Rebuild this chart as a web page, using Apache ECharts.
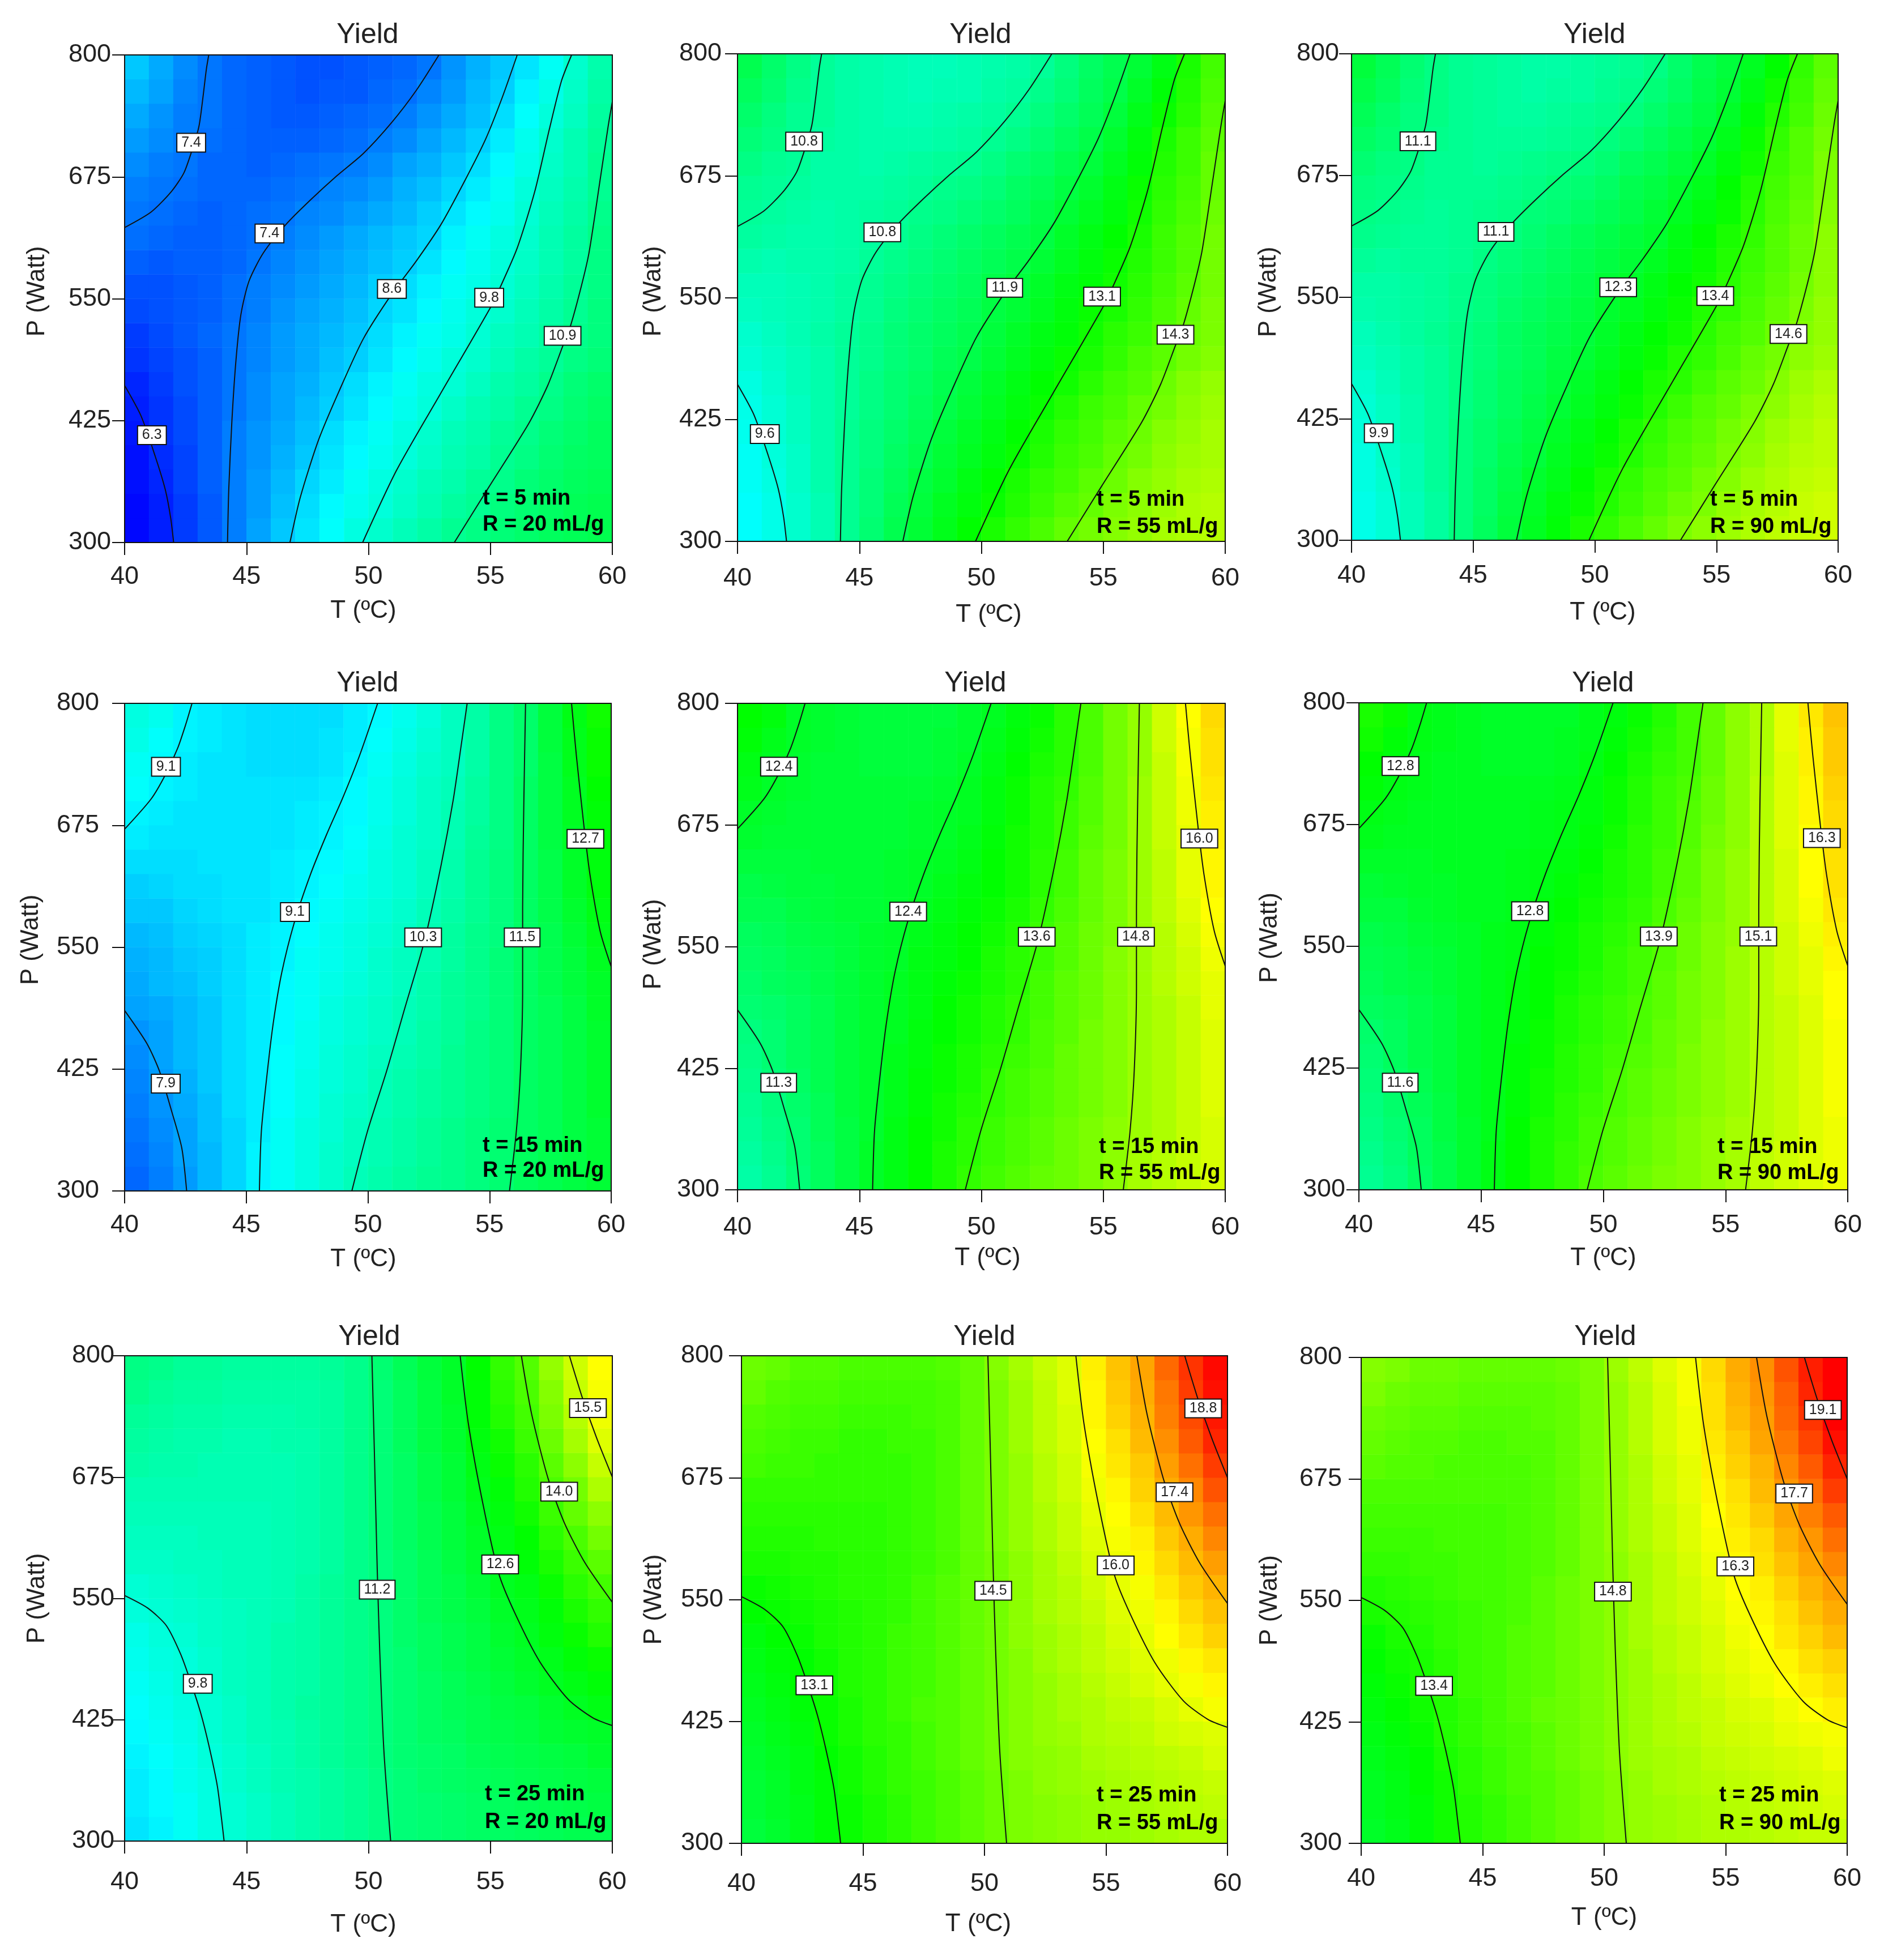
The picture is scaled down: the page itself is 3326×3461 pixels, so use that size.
<!DOCTYPE html>
<html><head><meta charset="utf-8">
<script src="https://cdn.jsdelivr.net/npm/echarts@6/dist/echarts.min.js"></script>
<style>html,body{margin:0;padding:0;background:#fff}#c{width:3326px;height:3461px}</style>
</head><body><div id="c"></div>
<script>
const tTicks=[40,45,50,55,60];
const tCells=[40.5,41.5,42.5,43.5,44.5,45.5,46.5,47.5,48.5,49.5,50.5,51.5,52.5,53.5,54.5,55.5,56.5,57.5,58.5,59.5];
const pCells=[312.5,337.5,362.5,387.5,412.5,437.5,462.5,487.5,512.5,537.5,562.5,587.5,612.5,637.5,662.5,687.5,712.5,737.5,762.5,787.5];

const z_t5_R20=[
[5.9,6.2,6.6,7.0,7.5,8.0,8.5,8.9,9.3,9.7,10.0,10.3,10.6,10.9,11.1,11.3,11.5,11.7,11.8,11.9],
[5.9,6.2,6.6,7.0,7.5,7.9,8.4,8.8,9.2,9.5,9.8,10.1,10.4,10.7,10.9,11.2,11.4,11.6,11.8,11.9],
[6.0,6.3,6.7,7.1,7.5,7.9,8.3,8.7,9.0,9.4,9.7,10.0,10.3,10.5,10.8,11.0,11.3,11.5,11.7,11.8],
[6.0,6.4,6.7,7.1,7.5,7.8,8.2,8.5,8.9,9.2,9.5,9.8,10.1,10.4,10.6,10.9,11.1,11.4,11.6,11.7],
[6.1,6.5,6.8,7.1,7.5,7.8,8.1,8.4,8.8,9.1,9.4,9.7,10.0,10.3,10.5,10.8,11.0,11.3,11.5,11.7],
[6.2,6.5,6.8,7.1,7.4,7.7,8.0,8.3,8.6,8.9,9.2,9.5,9.8,10.1,10.4,10.6,10.9,11.1,11.4,11.6],
[6.3,6.6,6.9,7.1,7.4,7.7,8.0,8.2,8.5,8.8,9.1,9.4,9.7,9.9,10.2,10.5,10.7,11.0,11.3,11.5],
[6.5,6.7,6.9,7.1,7.4,7.6,7.9,8.1,8.4,8.6,8.9,9.2,9.5,9.8,10.0,10.3,10.6,10.8,11.1,11.3],
[6.6,6.8,7.0,7.2,7.4,7.6,7.9,8.1,8.3,8.5,8.8,9.1,9.4,9.6,9.9,10.2,10.4,10.7,11.0,11.2],
[6.8,6.9,7.0,7.1,7.3,7.5,7.8,8.0,8.2,8.4,8.7,8.9,9.2,9.5,9.8,10.0,10.3,10.6,10.9,11.2],
[6.9,6.9,7.0,7.1,7.3,7.5,7.7,7.9,8.1,8.3,8.6,8.8,9.1,9.4,9.6,9.9,10.2,10.5,10.8,11.1],
[7.1,7.0,7.1,7.1,7.2,7.4,7.6,7.8,8.0,8.2,8.4,8.6,8.9,9.2,9.5,9.8,10.1,10.4,10.7,11.1],
[7.3,7.2,7.1,7.1,7.2,7.3,7.5,7.7,7.9,8.1,8.3,8.5,8.7,9.1,9.4,9.7,10.0,10.4,10.7,11.1],
[7.4,7.3,7.2,7.1,7.2,7.3,7.4,7.6,7.7,7.9,8.1,8.3,8.6,8.9,9.2,9.5,9.9,10.3,10.6,11.0],
[7.5,7.4,7.3,7.2,7.2,7.2,7.3,7.4,7.6,7.7,7.9,8.2,8.4,8.7,9.0,9.4,9.8,10.2,10.5,10.9],
[7.7,7.5,7.4,7.2,7.2,7.1,7.2,7.3,7.4,7.5,7.7,8.0,8.2,8.5,8.8,9.2,9.6,10.1,10.4,10.9],
[7.9,7.7,7.5,7.3,7.2,7.1,7.1,7.1,7.2,7.3,7.5,7.7,8.0,8.3,8.6,9.0,9.5,10.0,10.4,10.8],
[8.1,7.8,7.5,7.4,7.2,7.1,7.0,7.0,7.1,7.2,7.3,7.5,7.8,8.1,8.4,8.8,9.3,9.8,10.2,10.7],
[8.3,8.0,7.6,7.4,7.2,7.1,7.0,6.9,7.0,7.0,7.2,7.3,7.6,7.9,8.3,8.6,9.1,9.6,10.1,10.6],
[8.5,8.1,7.7,7.4,7.2,7.1,7.0,6.9,6.9,7.0,7.1,7.2,7.4,7.8,8.2,8.5,8.9,9.4,10.0,10.5]];
const z_t5_R55=[
[9.3,9.6,10.0,10.4,10.9,11.4,11.9,12.3,12.7,13.1,13.4,13.7,14.0,14.3,14.5,14.7,14.9,15.1,15.2,15.3],
[9.3,9.6,10.0,10.4,10.9,11.3,11.8,12.2,12.6,12.9,13.2,13.5,13.8,14.1,14.3,14.6,14.8,15.0,15.2,15.3],
[9.4,9.7,10.1,10.5,10.9,11.3,11.7,12.1,12.4,12.8,13.1,13.4,13.7,13.9,14.2,14.4,14.7,14.9,15.1,15.2],
[9.4,9.8,10.1,10.5,10.9,11.2,11.6,11.9,12.3,12.6,12.9,13.2,13.5,13.8,14.0,14.3,14.5,14.8,15.0,15.1],
[9.5,9.9,10.2,10.5,10.9,11.2,11.5,11.8,12.2,12.5,12.8,13.1,13.4,13.7,13.9,14.2,14.4,14.7,14.9,15.1],
[9.6,9.9,10.2,10.5,10.8,11.1,11.4,11.7,12.0,12.3,12.6,12.9,13.2,13.5,13.8,14.0,14.3,14.5,14.8,15.0],
[9.7,10.0,10.3,10.5,10.8,11.1,11.4,11.6,11.9,12.2,12.5,12.8,13.1,13.3,13.6,13.9,14.1,14.4,14.7,14.9],
[9.9,10.1,10.3,10.5,10.8,11.0,11.3,11.5,11.8,12.0,12.3,12.6,12.9,13.2,13.4,13.7,14.0,14.2,14.5,14.7],
[10.0,10.2,10.4,10.6,10.8,11.0,11.3,11.5,11.7,11.9,12.2,12.5,12.8,13.0,13.3,13.6,13.8,14.1,14.4,14.6],
[10.2,10.3,10.4,10.5,10.7,10.9,11.2,11.4,11.6,11.8,12.1,12.3,12.6,12.9,13.2,13.4,13.7,14.0,14.3,14.6],
[10.3,10.3,10.4,10.5,10.7,10.9,11.1,11.3,11.5,11.7,12.0,12.2,12.5,12.8,13.0,13.3,13.6,13.9,14.2,14.5],
[10.5,10.4,10.5,10.5,10.6,10.8,11.0,11.2,11.4,11.6,11.8,12.0,12.3,12.6,12.9,13.2,13.5,13.8,14.1,14.5],
[10.7,10.6,10.5,10.5,10.6,10.7,10.9,11.1,11.3,11.5,11.7,11.9,12.1,12.5,12.8,13.1,13.4,13.8,14.1,14.5],
[10.8,10.7,10.6,10.5,10.6,10.7,10.8,11.0,11.1,11.3,11.5,11.7,12.0,12.3,12.6,12.9,13.3,13.7,14.0,14.4],
[10.9,10.8,10.7,10.6,10.6,10.6,10.7,10.8,11.0,11.1,11.3,11.6,11.8,12.1,12.4,12.8,13.2,13.6,13.9,14.3],
[11.1,10.9,10.8,10.6,10.6,10.5,10.6,10.7,10.8,10.9,11.1,11.4,11.6,11.9,12.2,12.6,13.0,13.5,13.8,14.3],
[11.3,11.1,10.9,10.7,10.6,10.5,10.5,10.5,10.6,10.7,10.9,11.1,11.4,11.7,12.0,12.4,12.9,13.4,13.8,14.2],
[11.5,11.2,10.9,10.8,10.6,10.5,10.4,10.4,10.5,10.6,10.7,10.9,11.2,11.5,11.8,12.2,12.7,13.2,13.6,14.1],
[11.7,11.4,11.0,10.8,10.6,10.5,10.4,10.3,10.4,10.4,10.6,10.7,11.0,11.3,11.7,12.0,12.5,13.0,13.5,14.0],
[11.9,11.5,11.1,10.8,10.6,10.5,10.4,10.3,10.3,10.4,10.5,10.6,10.8,11.2,11.6,11.9,12.3,12.8,13.4,13.9]];
const z_t5_R90=[
[9.6,9.9,10.3,10.7,11.2,11.7,12.2,12.6,13.0,13.4,13.7,14.0,14.3,14.6,14.8,15.0,15.2,15.4,15.5,15.6],
[9.6,9.9,10.3,10.7,11.2,11.6,12.1,12.5,12.9,13.2,13.5,13.8,14.1,14.4,14.6,14.9,15.1,15.3,15.5,15.6],
[9.7,10.0,10.4,10.8,11.2,11.6,12.0,12.4,12.7,13.1,13.4,13.7,14.0,14.2,14.5,14.7,15.0,15.2,15.4,15.5],
[9.7,10.1,10.4,10.8,11.2,11.5,11.9,12.2,12.6,12.9,13.2,13.5,13.8,14.1,14.3,14.6,14.8,15.1,15.3,15.4],
[9.8,10.2,10.5,10.8,11.2,11.5,11.8,12.1,12.5,12.8,13.1,13.4,13.7,14.0,14.2,14.5,14.7,15.0,15.2,15.4],
[9.9,10.2,10.5,10.8,11.1,11.4,11.7,12.0,12.3,12.6,12.9,13.2,13.5,13.8,14.1,14.3,14.6,14.8,15.1,15.3],
[10.0,10.3,10.6,10.8,11.1,11.4,11.7,11.9,12.2,12.5,12.8,13.1,13.4,13.6,13.9,14.2,14.4,14.7,15.0,15.2],
[10.2,10.4,10.6,10.8,11.1,11.3,11.6,11.8,12.1,12.3,12.6,12.9,13.2,13.5,13.7,14.0,14.3,14.5,14.8,15.0],
[10.3,10.5,10.7,10.9,11.1,11.3,11.6,11.8,12.0,12.2,12.5,12.8,13.1,13.3,13.6,13.9,14.1,14.4,14.7,14.9],
[10.5,10.6,10.7,10.8,11.0,11.2,11.5,11.7,11.9,12.1,12.4,12.6,12.9,13.2,13.5,13.7,14.0,14.3,14.6,14.9],
[10.6,10.6,10.7,10.8,11.0,11.2,11.4,11.6,11.8,12.0,12.3,12.5,12.8,13.1,13.3,13.6,13.9,14.2,14.5,14.8],
[10.8,10.7,10.8,10.8,10.9,11.1,11.3,11.5,11.7,11.9,12.1,12.3,12.6,12.9,13.2,13.5,13.8,14.1,14.4,14.8],
[11.0,10.9,10.8,10.8,10.9,11.0,11.2,11.4,11.6,11.8,12.0,12.2,12.4,12.8,13.1,13.4,13.7,14.1,14.4,14.8],
[11.1,11.0,10.9,10.8,10.9,11.0,11.1,11.3,11.4,11.6,11.8,12.0,12.3,12.6,12.9,13.2,13.6,14.0,14.3,14.7],
[11.2,11.1,11.0,10.9,10.9,10.9,11.0,11.1,11.3,11.4,11.6,11.9,12.1,12.4,12.7,13.1,13.5,13.9,14.2,14.6],
[11.4,11.2,11.1,10.9,10.9,10.8,10.9,11.0,11.1,11.2,11.4,11.7,11.9,12.2,12.5,12.9,13.3,13.8,14.1,14.6],
[11.6,11.4,11.2,11.0,10.9,10.8,10.8,10.8,10.9,11.0,11.2,11.4,11.7,12.0,12.3,12.7,13.2,13.7,14.1,14.5],
[11.8,11.5,11.2,11.1,10.9,10.8,10.7,10.7,10.8,10.9,11.0,11.2,11.5,11.8,12.1,12.5,13.0,13.5,13.9,14.4],
[12.0,11.7,11.3,11.1,10.9,10.8,10.7,10.6,10.7,10.7,10.9,11.0,11.3,11.6,12.0,12.3,12.8,13.3,13.8,14.3],
[12.2,11.8,11.4,11.1,10.9,10.8,10.7,10.6,10.6,10.7,10.8,10.9,11.1,11.5,11.9,12.2,12.6,13.1,13.7,14.2]];

const z_t15_R20=[
[7.2,7.5,7.9,8.3,8.7,9.1,9.4,9.7,10.0,10.3,10.5,10.7,10.9,11.0,11.2,11.4,11.7,11.9,12.1,12.3],
[7.3,7.6,8.0,8.3,8.7,9.1,9.4,9.7,10.0,10.2,10.4,10.6,10.8,11.0,11.2,11.4,11.7,11.9,12.1,12.3],
[7.4,7.7,8.0,8.4,8.7,9.0,9.4,9.7,9.9,10.2,10.4,10.6,10.8,11.0,11.2,11.4,11.6,11.8,12.1,12.3],
[7.5,7.8,8.1,8.4,8.8,9.0,9.3,9.6,9.9,10.1,10.3,10.5,10.7,10.9,11.1,11.3,11.6,11.8,12.1,12.4],
[7.6,7.9,8.2,8.5,8.8,9.0,9.3,9.6,9.8,10.0,10.3,10.5,10.7,10.9,11.1,11.3,11.6,11.8,12.1,12.4],
[7.7,8.0,8.3,8.5,8.8,9.0,9.3,9.5,9.8,10.0,10.2,10.4,10.6,10.9,11.1,11.3,11.6,11.8,12.1,12.4],
[7.8,8.0,8.3,8.5,8.8,9.0,9.2,9.5,9.7,9.9,10.1,10.3,10.6,10.8,11.1,11.3,11.6,11.8,12.1,12.4],
[8.0,8.1,8.3,8.5,8.8,9.0,9.2,9.4,9.7,9.9,10.1,10.3,10.5,10.8,11.0,11.3,11.6,11.8,12.1,12.5],
[8.1,8.3,8.4,8.6,8.8,9.0,9.2,9.4,9.6,9.8,10.0,10.2,10.5,10.8,11.0,11.3,11.6,11.9,12.2,12.5],
[8.2,8.3,8.5,8.6,8.8,9.0,9.1,9.4,9.5,9.7,10.0,10.2,10.4,10.7,11.0,11.3,11.6,11.9,12.2,12.6],
[8.3,8.4,8.6,8.7,8.8,9.0,9.1,9.3,9.5,9.7,9.9,10.1,10.4,10.7,11.0,11.2,11.6,11.9,12.3,12.7],
[8.5,8.5,8.7,8.8,8.9,8.9,9.0,9.2,9.4,9.6,9.8,10.0,10.3,10.6,10.9,11.2,11.6,12.0,12.4,12.8],
[8.6,8.7,8.8,8.8,8.9,8.9,9.0,9.1,9.3,9.5,9.7,9.9,10.2,10.5,10.9,11.2,11.6,12.0,12.5,12.9],
[8.8,8.8,8.8,8.9,8.9,8.9,9.0,9.1,9.2,9.4,9.7,9.9,10.2,10.5,10.9,11.2,11.6,12.0,12.5,12.9],
[9.0,8.9,8.9,8.9,8.9,8.9,8.9,9.0,9.1,9.3,9.6,9.9,10.1,10.4,10.8,11.1,11.6,12.1,12.5,13.0],
[9.1,9.0,8.9,8.9,8.9,8.9,8.9,9.0,9.1,9.2,9.5,9.8,10.1,10.4,10.7,11.1,11.6,12.1,12.6,13.0],
[9.3,9.1,9.0,8.9,8.9,8.9,8.9,8.9,9.0,9.2,9.5,9.8,10.1,10.3,10.7,11.1,11.6,12.1,12.6,13.1],
[9.4,9.2,9.0,8.9,8.9,8.8,8.8,8.8,8.9,9.1,9.4,9.7,10.0,10.2,10.6,11.1,11.5,12.1,12.7,13.2],
[9.6,9.3,9.1,9.0,8.9,8.8,8.8,8.8,8.9,9.0,9.3,9.6,9.9,10.2,10.6,11.1,11.5,12.2,12.7,13.2],
[9.7,9.5,9.1,9.0,8.9,8.8,8.8,8.8,8.8,9.0,9.2,9.5,9.8,10.2,10.6,11.1,11.5,12.2,12.8,13.3]];
const z_t15_R55=[
[10.6,10.9,11.3,11.7,12.1,12.5,12.8,13.1,13.4,13.7,13.9,14.1,14.3,14.4,14.6,14.8,15.1,15.3,15.5,15.7],
[10.7,11.0,11.4,11.7,12.1,12.5,12.8,13.1,13.4,13.6,13.8,14.0,14.2,14.4,14.6,14.8,15.1,15.3,15.5,15.7],
[10.8,11.1,11.4,11.8,12.1,12.4,12.8,13.1,13.3,13.6,13.8,14.0,14.2,14.4,14.6,14.8,15.0,15.2,15.5,15.7],
[10.9,11.2,11.5,11.8,12.2,12.4,12.7,13.0,13.3,13.5,13.7,13.9,14.1,14.3,14.5,14.7,15.0,15.2,15.5,15.8],
[11.0,11.3,11.6,11.9,12.2,12.4,12.7,13.0,13.2,13.4,13.7,13.9,14.1,14.3,14.5,14.7,15.0,15.2,15.5,15.8],
[11.1,11.4,11.7,11.9,12.2,12.4,12.7,12.9,13.2,13.4,13.6,13.8,14.0,14.3,14.5,14.7,15.0,15.2,15.5,15.8],
[11.2,11.4,11.7,11.9,12.2,12.4,12.6,12.9,13.1,13.3,13.5,13.7,14.0,14.2,14.5,14.7,15.0,15.2,15.5,15.8],
[11.4,11.5,11.7,11.9,12.2,12.4,12.6,12.8,13.1,13.3,13.5,13.7,13.9,14.2,14.4,14.7,15.0,15.2,15.5,15.9],
[11.5,11.7,11.8,12.0,12.2,12.4,12.6,12.8,13.0,13.2,13.4,13.6,13.9,14.2,14.4,14.7,15.0,15.3,15.6,15.9],
[11.6,11.7,11.9,12.0,12.2,12.4,12.5,12.8,12.9,13.1,13.4,13.6,13.8,14.1,14.4,14.7,15.0,15.3,15.6,16.0],
[11.7,11.8,12.0,12.1,12.2,12.4,12.5,12.7,12.9,13.1,13.3,13.5,13.8,14.1,14.4,14.6,15.0,15.3,15.7,16.1],
[11.9,11.9,12.1,12.2,12.3,12.3,12.4,12.6,12.8,13.0,13.2,13.4,13.7,14.0,14.3,14.6,15.0,15.4,15.8,16.2],
[12.0,12.1,12.2,12.2,12.3,12.3,12.4,12.5,12.7,12.9,13.1,13.3,13.6,13.9,14.3,14.6,15.0,15.4,15.9,16.3],
[12.2,12.2,12.2,12.3,12.3,12.3,12.4,12.5,12.6,12.8,13.1,13.3,13.6,13.9,14.3,14.6,15.0,15.4,15.9,16.3],
[12.4,12.3,12.3,12.3,12.3,12.3,12.3,12.4,12.5,12.7,13.0,13.3,13.5,13.8,14.2,14.5,15.0,15.5,15.9,16.4],
[12.5,12.4,12.3,12.3,12.3,12.3,12.3,12.4,12.5,12.6,12.9,13.2,13.5,13.8,14.1,14.5,15.0,15.5,16.0,16.4],
[12.7,12.5,12.4,12.3,12.3,12.3,12.3,12.3,12.4,12.6,12.9,13.2,13.5,13.7,14.1,14.5,15.0,15.5,16.0,16.5],
[12.8,12.6,12.4,12.3,12.3,12.2,12.2,12.2,12.3,12.5,12.8,13.1,13.4,13.6,14.0,14.5,14.9,15.5,16.1,16.6],
[13.0,12.7,12.5,12.4,12.3,12.2,12.2,12.2,12.3,12.4,12.7,13.0,13.3,13.6,14.0,14.5,14.9,15.6,16.1,16.6],
[13.1,12.9,12.5,12.4,12.3,12.2,12.2,12.2,12.2,12.4,12.6,12.9,13.2,13.6,14.0,14.5,14.9,15.6,16.2,16.7]];
const z_t15_R90=[
[10.9,11.2,11.6,12.0,12.4,12.8,13.1,13.4,13.7,14.0,14.2,14.4,14.6,14.7,14.9,15.1,15.4,15.6,15.8,16.0],
[11.0,11.3,11.7,12.0,12.4,12.8,13.1,13.4,13.7,13.9,14.1,14.3,14.5,14.7,14.9,15.1,15.4,15.6,15.8,16.0],
[11.1,11.4,11.7,12.1,12.4,12.7,13.1,13.4,13.6,13.9,14.1,14.3,14.5,14.7,14.9,15.1,15.3,15.5,15.8,16.0],
[11.2,11.5,11.8,12.1,12.5,12.7,13.0,13.3,13.6,13.8,14.0,14.2,14.4,14.6,14.8,15.0,15.3,15.5,15.8,16.1],
[11.3,11.6,11.9,12.2,12.5,12.7,13.0,13.3,13.5,13.7,14.0,14.2,14.4,14.6,14.8,15.0,15.3,15.5,15.8,16.1],
[11.4,11.7,12.0,12.2,12.5,12.7,13.0,13.2,13.5,13.7,13.9,14.1,14.3,14.6,14.8,15.0,15.3,15.5,15.8,16.1],
[11.5,11.7,12.0,12.2,12.5,12.7,12.9,13.2,13.4,13.6,13.8,14.0,14.3,14.5,14.8,15.0,15.3,15.5,15.8,16.1],
[11.7,11.8,12.0,12.2,12.5,12.7,12.9,13.1,13.4,13.6,13.8,14.0,14.2,14.5,14.7,15.0,15.3,15.5,15.8,16.2],
[11.8,12.0,12.1,12.3,12.5,12.7,12.9,13.1,13.3,13.5,13.7,13.9,14.2,14.5,14.7,15.0,15.3,15.6,15.9,16.2],
[11.9,12.0,12.2,12.3,12.5,12.7,12.8,13.1,13.2,13.4,13.7,13.9,14.1,14.4,14.7,15.0,15.3,15.6,15.9,16.3],
[12.0,12.1,12.3,12.4,12.5,12.7,12.8,13.0,13.2,13.4,13.6,13.8,14.1,14.4,14.7,14.9,15.3,15.6,16.0,16.4],
[12.2,12.2,12.4,12.5,12.6,12.6,12.7,12.9,13.1,13.3,13.5,13.7,14.0,14.3,14.6,14.9,15.3,15.7,16.1,16.5],
[12.3,12.4,12.5,12.5,12.6,12.6,12.7,12.8,13.0,13.2,13.4,13.6,13.9,14.2,14.6,14.9,15.3,15.7,16.2,16.6],
[12.5,12.5,12.5,12.6,12.6,12.6,12.7,12.8,12.9,13.1,13.4,13.6,13.9,14.2,14.6,14.9,15.3,15.7,16.2,16.6],
[12.7,12.6,12.6,12.6,12.6,12.6,12.6,12.7,12.8,13.0,13.3,13.6,13.8,14.1,14.5,14.8,15.3,15.8,16.2,16.7],
[12.8,12.7,12.6,12.6,12.6,12.6,12.6,12.7,12.8,12.9,13.2,13.5,13.8,14.1,14.4,14.8,15.3,15.8,16.3,16.7],
[13.0,12.8,12.7,12.6,12.6,12.6,12.6,12.6,12.7,12.9,13.2,13.5,13.8,14.0,14.4,14.8,15.3,15.8,16.3,16.8],
[13.1,12.9,12.7,12.6,12.6,12.5,12.5,12.5,12.6,12.8,13.1,13.4,13.7,13.9,14.3,14.8,15.2,15.8,16.4,16.9],
[13.3,13.0,12.8,12.7,12.6,12.5,12.5,12.5,12.6,12.7,13.0,13.3,13.6,13.9,14.3,14.8,15.2,15.9,16.4,16.9],
[13.4,13.2,12.8,12.7,12.6,12.5,12.5,12.5,12.5,12.7,12.9,13.2,13.5,13.9,14.3,14.8,15.2,15.9,16.5,17.0]];

const z_t25_R20=[
[8.9,9.1,9.4,9.7,9.9,10.1,10.3,10.5,10.7,10.9,11.1,11.3,11.4,11.5,11.6,11.6,11.7,11.8,11.9,11.9],
[9.0,9.2,9.4,9.7,9.9,10.1,10.3,10.5,10.7,10.9,11.1,11.3,11.4,11.5,11.6,11.7,11.8,11.9,12.0,12.1],
[9.0,9.2,9.5,9.7,10.0,10.2,10.4,10.5,10.7,10.9,11.1,11.3,11.5,11.6,11.7,11.8,11.9,12.0,12.1,12.2],
[9.1,9.3,9.5,9.8,10.0,10.2,10.4,10.6,10.8,11.0,11.2,11.4,11.5,11.6,11.8,11.9,12.0,12.1,12.2,12.4],
[9.2,9.4,9.6,9.9,10.1,10.3,10.4,10.6,10.8,11.0,11.2,11.4,11.6,11.7,11.9,12.0,12.1,12.3,12.4,12.5],
[9.3,9.5,9.7,9.9,10.1,10.3,10.5,10.7,10.8,11.0,11.2,11.4,11.6,11.8,11.9,12.1,12.2,12.4,12.6,12.8],
[9.4,9.6,9.8,10.0,10.2,10.3,10.5,10.6,10.8,11.0,11.2,11.4,11.6,11.8,12.0,12.2,12.4,12.6,12.8,13.0],
[9.5,9.7,9.8,10.0,10.2,10.3,10.5,10.6,10.8,11.0,11.2,11.4,11.7,11.9,12.1,12.3,12.5,12.7,13.0,13.2],
[9.6,9.8,9.9,10.1,10.2,10.3,10.5,10.6,10.8,11.0,11.2,11.5,11.7,11.9,12.1,12.4,12.6,12.9,13.2,13.5],
[9.8,9.9,10.0,10.1,10.2,10.3,10.4,10.6,10.8,11.0,11.2,11.5,11.8,12.0,12.2,12.5,12.7,13.0,13.4,13.7],
[9.9,10.0,10.1,10.2,10.3,10.3,10.4,10.6,10.8,11.0,11.2,11.5,11.8,12.0,12.3,12.6,12.8,13.2,13.6,13.9],
[10.1,10.1,10.2,10.2,10.3,10.3,10.4,10.5,10.7,11.0,11.2,11.5,11.8,12.1,12.4,12.7,13.0,13.4,13.8,14.2],
[10.2,10.2,10.2,10.3,10.3,10.3,10.4,10.5,10.7,11.0,11.3,11.6,11.9,12.2,12.5,12.8,13.1,13.6,14.0,14.5],
[10.3,10.3,10.3,10.3,10.3,10.3,10.4,10.5,10.7,11.0,11.3,11.6,11.9,12.2,12.6,12.9,13.3,13.8,14.3,14.8],
[10.4,10.4,10.4,10.4,10.4,10.4,10.4,10.5,10.7,11.0,11.3,11.6,12.0,12.3,12.7,13.0,13.5,14.0,14.5,15.2],
[10.6,10.5,10.5,10.4,10.4,10.4,10.4,10.5,10.7,11.0,11.3,11.6,12.0,12.3,12.8,13.2,13.6,14.2,14.8,15.5],
[10.7,10.6,10.5,10.5,10.4,10.4,10.5,10.5,10.7,11.0,11.3,11.7,12.1,12.4,12.9,13.3,13.8,14.4,15.1,15.8],
[10.8,10.7,10.6,10.6,10.5,10.5,10.5,10.6,10.7,11.0,11.3,11.7,12.1,12.4,13.0,13.5,13.9,14.6,15.3,16.0],
[11.0,10.8,10.7,10.7,10.6,10.6,10.6,10.6,10.7,11.0,11.3,11.7,12.1,12.5,13.0,13.6,14.0,14.7,15.5,16.1],
[11.1,11.0,10.8,10.8,10.7,10.7,10.7,10.7,10.8,11.0,11.4,11.8,12.2,12.5,13.1,13.7,14.1,14.9,15.6,16.2]];
const z_t25_R55=[
[12.2,12.4,12.7,13.0,13.2,13.4,13.6,13.8,14.0,14.2,14.4,14.6,14.7,14.8,14.9,14.9,15.0,15.1,15.2,15.2],
[12.3,12.5,12.7,13.0,13.2,13.4,13.6,13.8,14.0,14.2,14.4,14.6,14.7,14.8,14.9,15.0,15.1,15.2,15.3,15.4],
[12.3,12.5,12.8,13.0,13.3,13.5,13.7,13.8,14.0,14.2,14.4,14.6,14.8,14.9,15.0,15.1,15.2,15.3,15.4,15.5],
[12.4,12.6,12.8,13.1,13.3,13.5,13.7,13.9,14.1,14.3,14.5,14.7,14.8,14.9,15.1,15.2,15.3,15.4,15.5,15.7],
[12.5,12.7,12.9,13.2,13.4,13.6,13.7,13.9,14.1,14.3,14.5,14.7,14.9,15.0,15.2,15.3,15.4,15.6,15.7,15.8],
[12.6,12.8,13.0,13.2,13.4,13.6,13.8,14.0,14.1,14.3,14.5,14.7,14.9,15.1,15.2,15.4,15.5,15.7,15.9,16.1],
[12.7,12.9,13.1,13.3,13.5,13.6,13.8,13.9,14.1,14.3,14.5,14.7,14.9,15.1,15.3,15.5,15.7,15.9,16.1,16.3],
[12.8,13.0,13.1,13.3,13.5,13.6,13.8,13.9,14.1,14.3,14.5,14.7,15.0,15.2,15.4,15.6,15.8,16.0,16.3,16.5],
[12.9,13.1,13.2,13.4,13.5,13.6,13.8,13.9,14.1,14.3,14.5,14.8,15.0,15.2,15.4,15.7,15.9,16.2,16.5,16.8],
[13.1,13.2,13.3,13.4,13.5,13.6,13.7,13.9,14.1,14.3,14.5,14.8,15.1,15.3,15.5,15.8,16.0,16.3,16.7,17.0],
[13.2,13.3,13.4,13.5,13.6,13.6,13.7,13.9,14.1,14.3,14.5,14.8,15.1,15.3,15.6,15.9,16.1,16.5,16.9,17.2],
[13.4,13.4,13.5,13.5,13.6,13.6,13.7,13.8,14.0,14.3,14.5,14.8,15.1,15.4,15.7,16.0,16.3,16.7,17.1,17.5],
[13.5,13.5,13.5,13.6,13.6,13.6,13.7,13.8,14.0,14.3,14.6,14.9,15.2,15.5,15.8,16.1,16.4,16.9,17.3,17.8],
[13.6,13.6,13.6,13.6,13.6,13.6,13.7,13.8,14.0,14.3,14.6,14.9,15.2,15.5,15.9,16.2,16.6,17.1,17.6,18.1],
[13.7,13.7,13.7,13.7,13.7,13.7,13.7,13.8,14.0,14.3,14.6,14.9,15.3,15.6,16.0,16.3,16.8,17.3,17.8,18.5],
[13.9,13.8,13.8,13.7,13.7,13.7,13.7,13.8,14.0,14.3,14.6,14.9,15.3,15.6,16.1,16.5,16.9,17.5,18.1,18.8],
[14.0,13.9,13.8,13.8,13.7,13.7,13.8,13.8,14.0,14.3,14.6,15.0,15.4,15.7,16.2,16.6,17.1,17.7,18.4,19.1],
[14.1,14.0,13.9,13.9,13.8,13.8,13.8,13.9,14.0,14.3,14.6,15.0,15.4,15.7,16.3,16.8,17.2,17.9,18.6,19.3],
[14.3,14.1,14.0,14.0,13.9,13.9,13.9,13.9,14.0,14.3,14.6,15.0,15.4,15.8,16.3,16.9,17.3,18.0,18.8,19.4],
[14.4,14.3,14.1,14.1,14.0,14.0,14.0,14.0,14.1,14.3,14.7,15.1,15.5,15.8,16.4,17.0,17.4,18.2,18.9,19.5]];
const z_t25_R90=[
[12.5,12.7,13.0,13.3,13.5,13.7,13.9,14.1,14.3,14.5,14.7,14.9,15.0,15.1,15.2,15.2,15.3,15.4,15.5,15.5],
[12.6,12.8,13.0,13.3,13.5,13.7,13.9,14.1,14.3,14.5,14.7,14.9,15.0,15.1,15.2,15.3,15.4,15.5,15.6,15.7],
[12.6,12.8,13.1,13.3,13.6,13.8,14.0,14.1,14.3,14.5,14.7,14.9,15.1,15.2,15.3,15.4,15.5,15.6,15.7,15.8],
[12.7,12.9,13.1,13.4,13.6,13.8,14.0,14.2,14.4,14.6,14.8,15.0,15.1,15.2,15.4,15.5,15.6,15.7,15.8,16.0],
[12.8,13.0,13.2,13.5,13.7,13.9,14.0,14.2,14.4,14.6,14.8,15.0,15.2,15.3,15.5,15.6,15.7,15.9,16.0,16.1],
[12.9,13.1,13.3,13.5,13.7,13.9,14.1,14.3,14.4,14.6,14.8,15.0,15.2,15.4,15.5,15.7,15.8,16.0,16.2,16.4],
[13.0,13.2,13.4,13.6,13.8,13.9,14.1,14.2,14.4,14.6,14.8,15.0,15.2,15.4,15.6,15.8,16.0,16.2,16.4,16.6],
[13.1,13.3,13.4,13.6,13.8,13.9,14.1,14.2,14.4,14.6,14.8,15.0,15.3,15.5,15.7,15.9,16.1,16.3,16.6,16.8],
[13.2,13.4,13.5,13.7,13.8,13.9,14.1,14.2,14.4,14.6,14.8,15.1,15.3,15.5,15.7,16.0,16.2,16.5,16.8,17.1],
[13.4,13.5,13.6,13.7,13.8,13.9,14.0,14.2,14.4,14.6,14.8,15.1,15.4,15.6,15.8,16.1,16.3,16.6,17.0,17.3],
[13.5,13.6,13.7,13.8,13.9,13.9,14.0,14.2,14.4,14.6,14.8,15.1,15.4,15.6,15.9,16.2,16.4,16.8,17.2,17.5],
[13.7,13.7,13.8,13.8,13.9,13.9,14.0,14.1,14.3,14.6,14.8,15.1,15.4,15.7,16.0,16.3,16.6,17.0,17.4,17.8],
[13.8,13.8,13.8,13.9,13.9,13.9,14.0,14.1,14.3,14.6,14.9,15.2,15.5,15.8,16.1,16.4,16.7,17.2,17.6,18.1],
[13.9,13.9,13.9,13.9,13.9,13.9,14.0,14.1,14.3,14.6,14.9,15.2,15.5,15.8,16.2,16.5,16.9,17.4,17.9,18.4],
[14.0,14.0,14.0,14.0,14.0,14.0,14.0,14.1,14.3,14.6,14.9,15.2,15.6,15.9,16.3,16.6,17.1,17.6,18.1,18.8],
[14.2,14.1,14.1,14.0,14.0,14.0,14.0,14.1,14.3,14.6,14.9,15.2,15.6,15.9,16.4,16.8,17.2,17.8,18.4,19.1],
[14.3,14.2,14.1,14.1,14.0,14.0,14.1,14.1,14.3,14.6,14.9,15.3,15.7,16.0,16.5,16.9,17.4,18.0,18.7,19.4],
[14.4,14.3,14.2,14.2,14.1,14.1,14.1,14.2,14.3,14.6,14.9,15.3,15.7,16.0,16.6,17.1,17.5,18.2,18.9,19.6],
[14.6,14.4,14.3,14.3,14.2,14.2,14.2,14.2,14.3,14.6,14.9,15.3,15.7,16.1,16.6,17.2,17.6,18.3,19.1,19.7],
[14.7,14.6,14.4,14.4,14.3,14.3,14.3,14.3,14.4,14.6,15.0,15.4,15.8,16.1,16.7,17.3,17.7,18.5,19.2,19.8]];

const contours_t5=[
[[40,461],[40.67,430],[41.26,388],[41.67,354],[41.89,325],[42.01,300]],
[[40,623],[41.09,639],[41.92,660],[42.43,679],[42.76,702],[43.05,727],[43.21,756],[43.35,785],[43.45,800]],
[[44.22,300],[44.27,354],[44.4,425],[44.57,488],[44.77,534],[45.1,568],[45.69,597],[46.61,626],[47.61,651],[48.7,676],[49.79,699],[50.96,731],[51.97,764],[52.89,800]],
[[46.78,300],[47.2,346],[47.95,405],[48.79,455],[49.79,509],[50.96,555],[51.97,589],[52.97,626],[53.97,672],[54.81,714],[55.48,756],[56.1,800]],
[[49.76,300],[51.15,374],[52.94,452],[54.98,540],[55.37,560],[56.1,602],[56.82,660],[57.41,723],[57.91,773],[58.33,800]],
[[53.52,300],[54.94,357],[56.57,422],[57.35,461],[57.96,501],[58.27,521],[58.74,564],[59.05,598],[59.5,672],[59.83,727],[60,752]]];
const contours_t15=[
[[40,485],[40.92,451],[41.43,423],[41.93,382],[42.35,344],[42.55,300]],
[[40,671],[41.09,702],[41.68,727],[42.18,754],[42.52,779],[42.77,800]],
[[45.54,300],[45.62,361],[45.87,423],[46.12,474],[46.46,524],[46.96,574],[47.63,624],[48.31,666],[48.98,704],[49.65,746],[50.4,800]],
[[49.34,300],[49.98,361],[50.77,423],[51.5,486],[52.33,557],[53,633],[53.5,700],[53.84,758],[54.08,800]],
[[55.82,300],[56.1,361],[56.27,423],[56.36,507],[56.36,591],[56.41,700],[56.48,800]],
[[60,530],[59.55,566],[59.13,624],[58.88,674],[58.57,746],[58.37,800]]];
const contours_t25=[
[[40,553],[40.95,540],[41.71,522],[42.29,493],[42.71,464],[43.13,431],[43.46,398],[43.8,357],[43.97,324],[44.08,300]],
[[50.14,800],[50.24,703],[50.36,579],[50.46,497],[50.63,394],[50.91,300]],
[[53.76,800],[54.09,731],[54.68,649],[55.35,575],[56.02,534],[57.02,485],[58.19,446],[59.2,427],[60,419]],
[[56.27,800],[56.69,740],[57.36,674],[58.03,628],[58.87,587],[60,546]],
[[58.24,800],[58.78,756],[59.36,715],[60,675]]];

const labelAt_t5=[[41.12,410],[42.73,710],[45.94,617],[50.96,560],[54.95,551],[57.96,512]];
const labelAt_t15=[[41.69,410],[41.7,735],[47,586],[52.27,560],[56.34,560],[58.94,661]];
const labelAt_t25=[[43,462],[50.36,559],[55.4,585],[57.82,660],[59,746]];
const labels_t5_R20=['6.3','7.4','7.4','8.6','9.8','10.9'];
const labels_t5_R55=['9.6','10.8','10.8','11.9','13.1','14.3'];
const labels_t5_R90=['9.9','11.1','11.1','12.3','13.4','14.6'];
const labels_t15_R20=['7.9','9.1','9.1','10.3','11.5','12.7'];
const labels_t15_R55=['11.3','12.4','12.4','13.6','14.8','16.0'];
const labels_t15_R90=['11.6','12.8','12.8','13.9','15.1','16.3'];
const labels_t25_R20=['9.8','11.2','12.6','14.0','15.5'];
const labels_t25_R55=['13.1','14.5','16.0','17.4','18.8'];
const labels_t25_R90=['13.4','14.8','16.3','17.7','19.1'];

const FONT='"Liberation Sans",Arial,sans-serif';
const STOPS=[[5.8,[0,0,255]],[9.25,[0,255,255]],[13.1,[0,255,0]],[16.2,[255,255,0]],[19.6,[255,0,0]]];
const COLORS=[];
for(let k=0;k<=276;k++){
  const v=5.8+k*0.05;
  let s=0; while(s<STOPS.length-2&&v>STOPS[s+1][0])s++;
  const [a,ca]=STOPS[s],[b,cb]=STOPS[s+1],f=Math.min(1,(v-a)/(b-a));
  COLORS.push('rgb('+ca.map((c,j)=>Math.round(c+(cb[j]-c)*f)).join(',')+')');
}
const panels=[
{z:z_t5_R20,c:contours_t5,at:labelAt_t5,lb:labels_t5_R20,note:['t = 5 min','R = 20 mL/g'],box:[220,1081,97,958],tx:[644,60],n:[852,881,927],mx:38,my:24,gx:99,gy:132,dx:-9,ny:13,ly:0},
{z:z_t5_R55,c:contours_t5,at:labelAt_t5,lb:labels_t5_R55,note:['t = 5 min','R = 55 mL/g'],box:[1302,2163,95,956],tx:[1726,60],n:[1936,883,931],mx:43,my:28,gx:108,gy:126,dx:13,ny:11,ly:0},
{z:z_t5_R90,c:contours_t5,at:labelAt_t5,lb:labels_t5_R90,note:['t = 5 min','R = 90 mL/g'],box:[2386,3245,95,954],tx:[2810,60],n:[3019,883,931],mx:40,my:22,gx:106,gy:124,dx:14,ny:9,ly:0},
{z:z_t15_R20,c:contours_t15,at:labelAt_t15,lb:labels_t15_R20,note:['t = 15 min','R = 20 mL/g'],box:[220,1079,1242,2103],tx:[644,1205],n:[852,2024,2068],mx:38,my:45,gx:99,gy:143,dx:-8,ny:13,ly:14},
{z:z_t15_R55,c:contours_t15,at:labelAt_t15,lb:labels_t15_R55,note:['t = 15 min','R = 55 mL/g'],box:[1302,2163,1242,2101],tx:[1717,1205],n:[1940,2026,2072],mx:44,my:32,gx:99,gy:126,dx:11,ny:4,ly:0},
{z:z_t15_R90,c:contours_t15,at:labelAt_t15,lb:labels_t15_R90,note:['t = 15 min','R = 90 mL/g'],box:[2399,3262,1241,2101],tx:[2825,1205],n:[3032,2026,2072],mx:40,my:24,gx:99,gy:135,dx:0,ny:15,ly:0},
{z:z_t25_R20,c:contours_t25,at:labelAt_t25,lb:labels_t25_R20,note:['t = 25 min','R = 20 mL/g'],box:[220,1081,2394,3251],tx:[647,2359],n:[856,3169,3218],mx:50,my:18,gx:126,gy:132,dx:-9,ny:0,ly:0},
{z:z_t25_R55,c:contours_t25,at:labelAt_t25,lb:labels_t25_R55,note:['t = 25 min','R = 55 mL/g'],box:[1309,2167,2394,3255],tx:[1733,2359],n:[1936,3171,3220],mx:49,my:32,gx:121,gy:132,dx:-11,ny:0,ly:0},
{z:z_t25_R90,c:contours_t25,at:labelAt_t25,lb:labels_t25_R90,note:['t = 25 min','R = 90 mL/g'],box:[2403,3261,2397,3255],tx:[2829,2359],n:[3035,3171,3220],mx:40,my:34,gx:110,gy:139,dx:0,ny:0,ly:0}
];
const line={lineStyle:{color:'#111',width:2}};
const grid=[],xAxis=[],yAxis=[],series=[],title=[],graphic=[],heatIdx=[];
panels.forEach((p,i)=>{
  const [l,r,t,b]=p.box;
  grid.push({left:l,top:t,width:r-l,height:b-t,containLabel:false});
  const pad=p.dx>0?[0,0,0,2*p.dx]:[0,-2*p.dx,0,0];
  xAxis.push({type:'value',gridIndex:i,min:40,max:60,interval:5,position:'bottom',z:6,
    name:'T (ºC)',nameLocation:'middle',nameGap:p.gx,nameTextStyle:{fontFamily:FONT,fontSize:44,color:'#222',padding:pad},
    axisLine:{show:true,...line},axisTick:{show:true,length:22,...line},splitLine:{show:false},
    axisLabel:{margin:p.mx,fontFamily:FONT,fontSize:45,color:'#222',hideOverlap:false,showMinLabel:true,showMaxLabel:true}});
  xAxis.push({type:'category',gridIndex:i,data:tCells,position:'top',z:6,axisLine:{show:true,onZero:false,...line},axisTick:{show:false},axisLabel:{show:false},splitLine:{show:false}});
  yAxis.push({type:'value',gridIndex:i,min:300,max:800,interval:125,position:'left',z:6,
    name:'P (Watt)',nameLocation:'middle',nameGap:p.gy,nameTextStyle:{fontFamily:FONT,fontSize:44,color:'#222',padding:[0,0,0,2*p.ny]},
    axisLine:{show:true,...line},axisTick:{show:true,length:22,...line},splitLine:{show:false},
    axisLabel:{margin:p.my,fontFamily:FONT,fontSize:45,color:'#222',hideOverlap:false,showMinLabel:true,showMaxLabel:true,padding:[0,0,p.ly,0]}});
  yAxis.push({type:'category',gridIndex:i,data:pCells,position:'right',z:6,axisLine:{show:true,onZero:false,...line},axisTick:{show:false},axisLabel:{show:false},splitLine:{show:false}});
  const cells=[];
  p.z.forEach((row,y)=>row.forEach((v,x)=>cells.push([x,y,v])));
  heatIdx.push(series.length);
  series.push({type:'heatmap',xAxisIndex:2*i+1,yAxisIndex:2*i+1,data:cells,silent:true,progressive:0,itemStyle:{borderWidth:0},emphasis:{disabled:true},z:1});
  p.c.forEach(c=>series.push({type:'line',xAxisIndex:2*i,yAxisIndex:2*i,data:c,showSymbol:false,symbol:'none',smooth:0.25,lineStyle:{color:'#111',width:2},silent:true,z:3}));
  series.push({type:'scatter',xAxisIndex:2*i,yAxisIndex:2*i,symbolSize:0,silent:true,z:8,itemStyle:{opacity:1},
    data:p.at.map((a,k)=>[a[0],a[1],p.lb[k]]),
    label:{show:true,position:'inside',opacity:1,formatter:d=>d.value[2],fontFamily:FONT,fontSize:25,color:'#222',backgroundColor:'#fff',borderColor:'#111',borderWidth:2,padding:[3,7]}});
  title.push({text:'Yield',left:p.tx[0],top:p.tx[1]-28,textAlign:'center',textStyle:{fontFamily:FONT,fontSize:50,fontWeight:'normal',color:'#222'}});
  graphic.push({type:'text',x:p.n[0],y:p.n[1],z:20,style:{text:p.note[0],font:'bold 38px '+FONT,fill:'#000',textVerticalAlign:'middle',verticalAlign:'middle'}});
  graphic.push({type:'text',x:p.n[0],y:p.n[2],z:20,style:{text:p.note[1],font:'bold 38px '+FONT,fill:'#000',textVerticalAlign:'middle',verticalAlign:'middle'}});
});
const chart=echarts.init(document.getElementById('c'),null,{renderer:'canvas'});
chart.setOption({animation:false,backgroundColor:'#fff',title,grid,xAxis,yAxis,series,graphic,
  visualMap:{type:'continuous',show:false,min:5.8,max:19.6,seriesIndex:heatIdx,dimension:2,inRange:{color:COLORS}}});
</script></body></html>
